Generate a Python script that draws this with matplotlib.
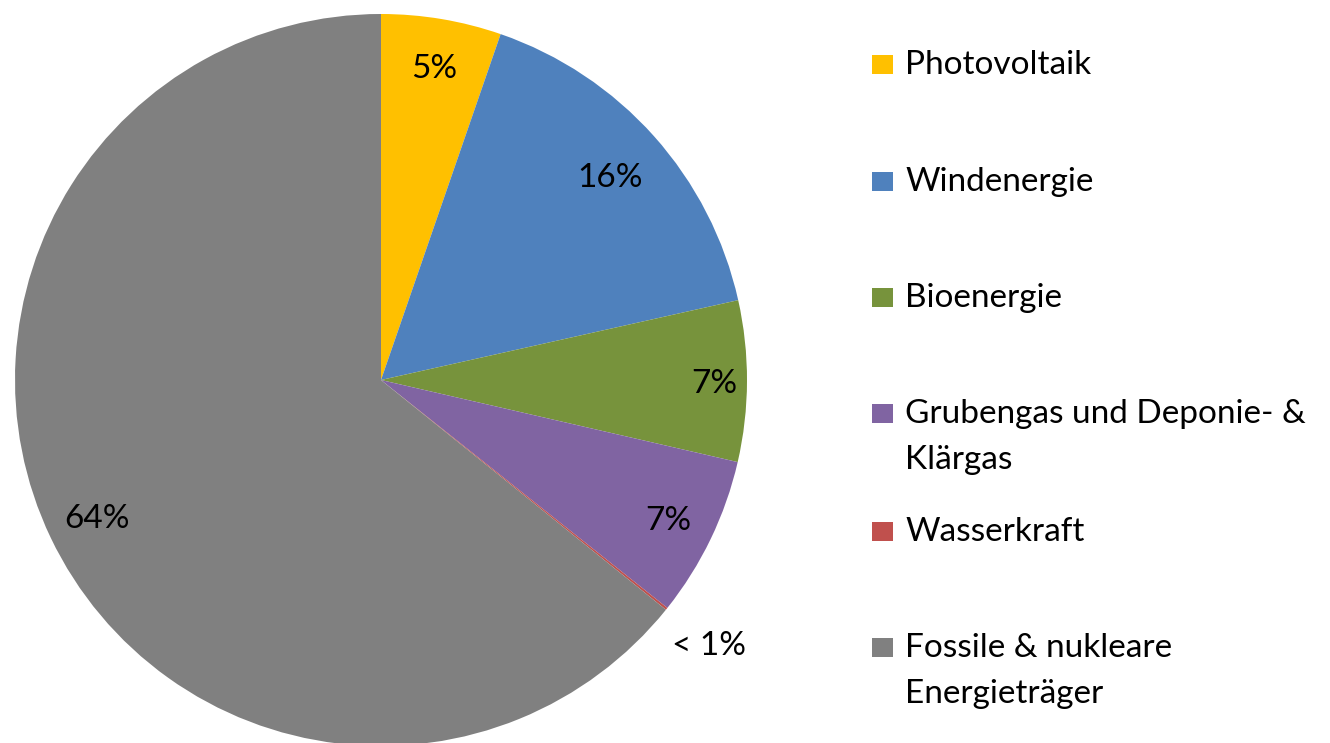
import numpy as np
import matplotlib.pyplot as plt
from matplotlib.patches import Rectangle

# shares of gross power generation, clockwise from 12 o'clock
categories = ['Photovoltaik', 'Windenergie', 'Bioenergie',
              'Grubengas und Deponie- &\nKlärgas', 'Wasserkraft',
              'Fossile & nukleare\nEnergieträger']
shares = [5.3, 16.2, 7.1, 7.1, 0.1, 64.2]
pct_labels = ['5%', '16%', '7%', '7%', '< 1%', '64%']
colors = ['#FFC000', '#4F81BD', '#77933C', '#8064A2', '#C0504D', '#808080']

# radial position of each percentage label (fraction of radius)
label_radius = [0.87, 0.84, 0.91, 0.87, 1.15, 0.86]

plt.rcParams['font.family'] = ['Lato', 'DejaVu Sans']

W, H = 1330, 743
fig = plt.figure(figsize=(W / 100, H / 100), dpi=100)

# pie centre at (381, 380) px, radius 366 px
cx, cy, r = 381, 380, 366
ax = fig.add_axes([(cx - r) / W, (H - cy - r) / H, 2 * r / W, 2 * r / H])
wedges, _ = ax.pie(shares, colors=colors, startangle=90, counterclock=False,
                   radius=1, wedgeprops=dict(linewidth=0))
ax.set_xlim(-1, 1)
ax.set_ylim(-1, 1)
ax.set_aspect('equal')
ax.axis('off')

for w, lab, rr in zip(wedges, pct_labels, label_radius):
    mid = np.deg2rad((w.theta1 + w.theta2) / 2)
    ax.text(rr * np.cos(mid), rr * np.sin(mid), lab, ha='center',
            va='center_baseline', fontsize=24, color='black')

# legend, hand placed to keep markers on the first text line
legend_y = [65, 182, 298, 414, 532, 648]
line_gap = 46
for name, col, y in zip(categories, colors, legend_y):
    fig.add_artist(Rectangle((872 / W, 1 - (y + 9) / H), 21 / W, 19 / H,
                             transform=fig.transFigure, color=col, lw=0))
    for i, line in enumerate(name.split('\n')):
        fig.text(905 / W, 1 - (y + i * line_gap) / H, line, ha='left',
                 va='center', fontsize=24, color='black')

fig.savefig('out.png', dpi=100)
